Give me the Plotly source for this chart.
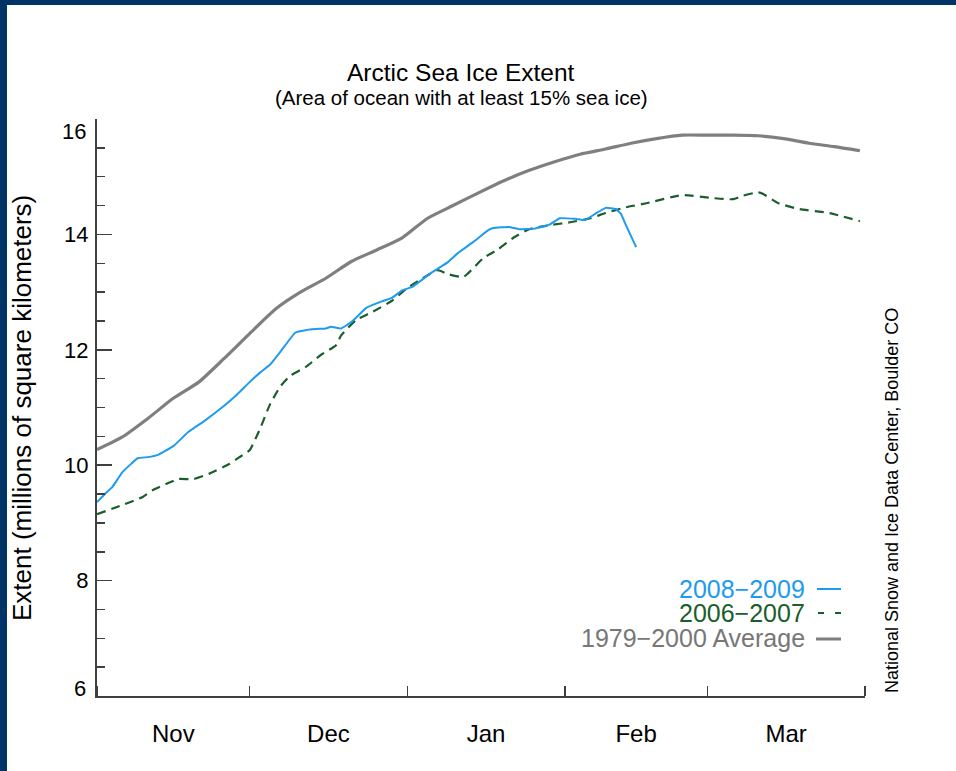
import plotly.graph_objects as go
import pandas as pd

# ---------------- data (days since 1 Nov, extent in millions of km^2) ----------------
season_start = pd.Timestamp("2008-11-01")

avg_days = [0, 5, 10, 15, 20, 25, 30, 35, 40, 45, 50, 55, 60, 65, 70, 75, 80, 85, 90,
            95, 100, 105, 110, 115, 120, 125, 130, 135, 140, 145, 150]
avg_extent = [10.27, 10.49, 10.81, 11.16, 11.44, 11.85, 12.28, 12.70, 13.00, 13.24, 13.53,
              13.73, 13.94, 14.28, 14.50, 14.72, 14.93, 15.11, 15.26, 15.39, 15.48, 15.58,
              15.66, 15.72, 15.72, 15.72, 15.71, 15.66, 15.58, 15.52, 15.45]

s0809_days = [0, 2, 3, 5, 8, 10, 12, 15, 18, 21, 25, 27, 30, 32, 34, 36, 39, 41, 43, 45,
              46, 48, 50, 53, 56, 58, 60, 62, 64, 66, 69, 71, 74, 77, 78, 81, 83, 86, 89,
              91, 94, 96, 98, 100, 102, 103, 104, 106]
s0809_extent = [9.36, 9.54, 9.62, 9.88, 10.12, 10.14, 10.18, 10.33, 10.58, 10.76, 11.03,
                11.18, 11.44, 11.60, 11.74, 11.96, 12.30, 12.34, 12.36, 12.37, 12.40, 12.37,
                12.48, 12.73, 12.84, 12.90, 13.03, 13.09, 13.22, 13.35, 13.52, 13.68, 13.87,
                14.08, 14.11, 14.13, 14.09, 14.10, 14.17, 14.28, 14.27, 14.25, 14.36, 14.46,
                14.44, 14.36, 14.16, 13.78]

s0607_days = [0, 5, 9, 11, 14, 16, 19, 22, 26, 28, 30, 32, 34, 36, 38, 41, 44, 47, 48, 51,
              54, 58, 61, 64, 67, 69, 72, 73, 76, 79, 82, 85, 89, 93, 97, 100, 104, 108,
              115, 121, 125, 127, 130, 131, 134, 138, 144, 150]
s0607_extent = [9.15, 9.31, 9.45, 9.57, 9.69, 9.76, 9.76, 9.85, 10.02, 10.14, 10.26, 10.62,
                11.05, 11.36, 11.55, 11.70, 11.91, 12.08, 12.25, 12.52, 12.65, 12.85, 13.07,
                13.24, 13.38, 13.31, 13.26, 13.33, 13.59, 13.75, 13.95, 14.09, 14.16, 14.21,
                14.28, 14.37, 14.47, 14.54, 14.68, 14.63, 14.61, 14.67, 14.73, 14.70, 14.54,
                14.44, 14.37, 14.23]

y_tick_vals = [6, 8, 10, 12, 14, 16]
y_tick_text = ["6", "8", "10", "12", "14", "16"]

legend_labels = ["2008\u22122009", "2006\u22122007", "1979\u22122000 Average"]

# ---------------- styling ----------------
BLUE = "#1E9BF0"
GREEN = "#1A5E2C"
GRAY = "#7F7F7F"
GRAY_TXT = "#777777"
AXIS = "#3F3F3F"
FRAME = "#003466"
FONT = "Liberation Sans, Arial, Helvetica, sans-serif"

W, H = 956, 771
L, R, T, B = 97, 91, 119, 75
PW, PH = W - L - R, H - T - B


def px_x(px):
    return (px - L) / PW


def px_y(py):
    return (H - B - py) / PH


def to_dates(days):
    return season_start + pd.to_timedelta(days, unit="D")


fig = go.Figure()
fig.add_trace(go.Scatter(x=to_dates(avg_days), y=avg_extent, mode="lines",
                         line=dict(color=GRAY, width=3.2, shape="spline", smoothing=0.6),
                         name=legend_labels[2], showlegend=False, hoverinfo="skip"))
fig.add_trace(go.Scatter(x=to_dates(s0607_days), y=s0607_extent, mode="lines",
                         line=dict(color=GREEN, width=2.2, dash="9px,6px",
                                   shape="spline", smoothing=0.5),
                         name=legend_labels[1], showlegend=False, hoverinfo="skip"))
fig.add_trace(go.Scatter(x=to_dates(s0809_days), y=s0809_extent, mode="lines",
                         line=dict(color=BLUE, width=2, shape="spline", smoothing=0.3),
                         name=legend_labels[0], showlegend=False, hoverinfo="skip"))

fig.update_layout(
    width=W, height=H,
    margin=dict(l=L, r=R, t=T, b=B, pad=0),
    paper_bgcolor="white", plot_bgcolor="white",
    font=dict(family=FONT, color="black"),
    showlegend=False,
    hovermode=False,
)

fig.update_xaxes(
    type="date",
    range=["2008-11-01", "2009-04-01"],
    tick0="2008-11-01", dtick="M1", tickformat="%b", ticklabelmode="period",
    ticks="inside", ticklen=10, tickwidth=1.5, tickcolor=AXIS,
    showline=True, linecolor=AXIS, linewidth=2,
    showgrid=False, zeroline=False,
    tickfont=dict(size=24, color="black", family=FONT),
    ticklabelstandoff=15,
)
# end labels (6 and 16) are drawn nudged inward, as in the original
inner_text = [t if v not in (y_tick_vals[0], y_tick_vals[-1]) else "" for v, t in
              zip(y_tick_vals, y_tick_text)]
fig.update_yaxes(
    range=[6, 16], tickmode="array", tickvals=y_tick_vals, ticktext=inner_text,
    ticks="inside", ticklen=15, tickwidth=1.5, tickcolor=AXIS,
    minor=dict(dtick=0.5, tick0=6, ticks="inside", ticklen=8, tickwidth=1.5,
               tickcolor=AXIS, showgrid=False),
    showline=True, linecolor=AXIS, linewidth=2,
    showgrid=False, zeroline=False,
    tickfont=dict(size=22, color="black", family=FONT),
    ticklabelstandoff=2,
)

annotations = [
    dict(text="Arctic Sea Ice Extent", x=px_x(461), y=px_y(72), font=dict(size=24.5)),
    dict(text="(Area of ocean with at least 15% sea ice)", x=px_x(461), y=px_y(97),
         font=dict(size=20.5)),
    dict(text="Extent (millions of square kilometers)", x=px_x(22), y=px_y(408),
         textangle=-90, font=dict(size=26)),
    dict(text="National Snow and Ice Data Center, Boulder CO", x=px_x(892), y=px_y(501),
         textangle=-90, font=dict(size=18)),
    dict(text=y_tick_text[-1], x=px_x(88), y=px_y(131), xanchor="right",
         font=dict(size=22)),
    dict(text=y_tick_text[0], x=px_x(88), y=px_y(688), xanchor="right",
         font=dict(size=22)),
    dict(text=legend_labels[0], x=px_x(807), y=px_y(589), xanchor="right",
         font=dict(size=25, color=BLUE)),
    dict(text=legend_labels[1], x=px_x(807), y=px_y(613), xanchor="right",
         font=dict(size=25, color=GREEN)),
    dict(text=legend_labels[2], x=px_x(807), y=px_y(638), xanchor="right",
         font=dict(size=25, color=GRAY_TXT)),
]
for a in annotations:
    a.setdefault("xanchor", "center")
    a.update(xref="paper", yref="paper", yanchor="middle", showarrow=False)
    a["font"].setdefault("family", FONT)
    a["font"].setdefault("color", "black")
    fig.add_annotation(**a)

shapes = [
    # legend line samples
    dict(type="line", x0=px_x(817), x1=px_x(841), y0=px_y(589), y1=px_y(589),
         line=dict(color=BLUE, width=2)),
    dict(type="line", x0=px_x(818), x1=px_x(841), y0=px_y(613), y1=px_y(613),
         line=dict(color=GREEN, width=2, dash="6px,11px")),
    dict(type="line", x0=px_x(816), x1=px_x(841), y0=px_y(639), y1=px_y(639),
         line=dict(color=GRAY, width=3)),
    # dark blue frame (top and left)
    dict(type="rect", x0=px_x(0), x1=px_x(W), y0=px_y(5), y1=px_y(0),
         fillcolor=FRAME, line=dict(width=0)),
    dict(type="rect", x0=px_x(0), x1=px_x(7), y0=px_y(H), y1=px_y(0),
         fillcolor=FRAME, line=dict(width=0)),
]
for s in shapes:
    s.update(xref="paper", yref="paper")
    fig.add_shape(**s)

fig.write_html(
    "out.html",
    config={"displayModeBar": False, "staticPlot": True},
    post_script="document.body.style.margin='0px';document.body.style.overflow='hidden';",
)
